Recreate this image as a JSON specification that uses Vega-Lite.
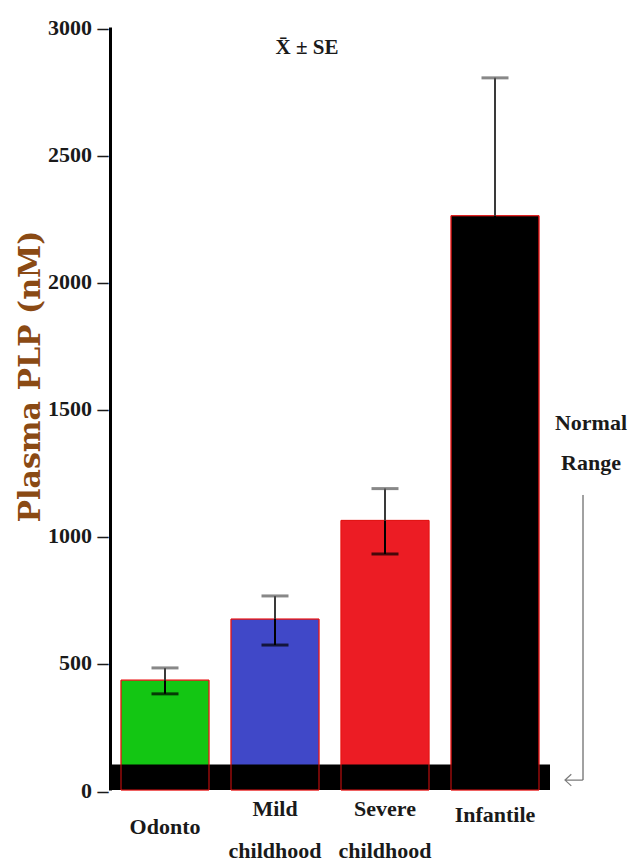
{
  "$schema": "https://vega.github.io/schema/vega-lite/v6.json",
  "width": 440,
  "height": 763,
  "autosize": {"type": "none"},
  "padding": {"left": 110, "top": 27, "right": 84, "bottom": 75},
  "background": "white",
  "config": {
    "view": {"stroke": null},
    "axisY": {"domainColor": "#000000", "domainWidth": 3, "grid": false}
  },
  "data": {
    "values": [
      {"group": "Odonto", "mean": 432, "lo": 378, "hi": 480},
      {"group": "Mild childhood", "mean": 672, "lo": 570, "hi": 763},
      {"group": "Severe childhood", "mean": 1060, "lo": 928, "hi": 1185},
      {"group": "Infantile", "mean": 2258, "lo": 1716, "hi": 2800}
    ]
  },
  "layer": [
    {
      "mark": {"type": "bar", "stroke": "#ff2a2a", "strokeWidth": 1, "strokeOpacity": 0.7},
      "encoding": {
        "x": {
          "field": "group",
          "type": "nominal",
          "sort": null,
          "scale": {"paddingInner": 0.2, "paddingOuter": 0.1},
          "axis": {
            "title": null,
            "domain": false,
            "tickOpacity": 0,
            "tickSize": 0,
            "labelAngle": 0,
            "labelExpr": "split(datum.label, ' ')",
            "labelFont": "Liberation Serif",
            "labelFontWeight": "bold",
            "labelFontSize": 22,
            "labelColor": "#1a1a1a",
            "labelLineHeight": 42,
            "labelPadding": {"condition": [{"test": "datum.value === 'Odonto'", "value": 26}, {"test": "datum.value === 'Infantile'", "value": 14}], "value": 8}
          }
        },
        "y": {
          "field": "mean",
          "type": "quantitative",
          "scale": {"domain": [0, 3000], "nice": false},
          "axis": {
            "values": [0, 500, 1000, 1500, 2000, 2500, 3000],
            "format": "d",
            "labelExpr": "datum.label + ' –'",
            "labelOverlap": false,
            "tickSize": 0,
            "labelFont": "Liberation Serif",
            "labelFontWeight": "bold",
            "labelFontSize": 22,
            "labelColor": "#1a1a1a",
            "labelPadding": 2,
            "title": "Plasma PLP (nM)",
            "titleFont": "DejaVu Serif",
            "titleFontWeight": "bold",
            "titleFontSize": 30,
            "titleColor": "#8a4a14",
            "titleX": -80,
            "titleY": 349,
            "titleAngle": -90,
            "titleAlign": "center",
            "titleBaseline": "middle"
          }
        },
        "color": {
          "field": "group",
          "type": "nominal",
          "sort": null,
          "scale": {"domain": ["Odonto", "Mild childhood", "Severe childhood", "Infantile"], "range": ["#13c613", "#4048c8", "#ec1c24", "#000000"]},
          "legend": null
        }
      }
    },
    {
      "data": {"values": [{"lo": 0, "hi": 100}]},
      "mark": {"type": "rect", "color": "#000000"},
      "encoding": {
        "y": {"field": "lo", "type": "quantitative"},
        "y2": {"field": "hi"}
      }
    },
    {
      "mark": {"type": "bar", "fillOpacity": 0, "stroke": "#e01010", "strokeWidth": 1},
      "encoding": {
        "x": {"field": "group", "type": "nominal", "sort": null},
        "y": {"field": "mean", "type": "quantitative"}
      }
    },
    {
      "mark": {"type": "rule", "color": "#000000", "strokeWidth": 2},
      "encoding": {
        "x": {"field": "group", "type": "nominal", "sort": null},
        "y": {"field": "lo", "type": "quantitative"},
        "y2": {"field": "mean"}
      }
    },
    {
      "mark": {"type": "rule", "color": "#3a3a3a", "strokeWidth": 2},
      "encoding": {
        "x": {"field": "group", "type": "nominal", "sort": null},
        "y": {"field": "mean", "type": "quantitative"},
        "y2": {"field": "hi"}
      }
    },
    {
      "mark": {"type": "tick", "color": "#000000", "size": 27, "thickness": 3},
      "encoding": {
        "x": {"field": "group", "type": "nominal", "sort": null},
        "y": {"field": "lo", "type": "quantitative"}
      }
    },
    {
      "mark": {"type": "tick", "color": "#555555", "size": 27, "thickness": 3},
      "encoding": {
        "x": {"field": "group", "type": "nominal", "sort": null},
        "y": {"field": "hi", "type": "quantitative"}
      }
    },
    {
      "data": {"values": [{"t": "X̄ ± SE"}]},
      "mark": {"type": "text", "font": "Liberation Serif", "fontWeight": "bold", "fontSize": 21, "color": "#1a1a1a", "dx": 32, "baseline": "middle", "align": "center"},
      "encoding": {
        "x": {"datum": "Mild childhood"},
        "y": {"datum": 2918},
        "text": {"field": "t"}
      }
    },
    {
      "data": {"values": [{"t": ["Normal", "Range"]}]},
      "mark": {"type": "text", "font": "Liberation Serif", "fontWeight": "bold", "fontSize": 22, "color": "#1a1a1a", "dx": 96, "baseline": "middle", "align": "center", "lineHeight": 40},
      "encoding": {
        "x": {"datum": "Infantile"},
        "y": {"datum": 1443},
        "text": {"field": "t"}
      }
    },
    {
      "data": {"values": [{"a": 1160, "b": 39}]},
      "mark": {"type": "rule", "color": "#444444", "strokeWidth": 1},
      "encoding": {
        "x": {"datum": "Infantile"},
        "xOffset": {"value": 132},
        "y": {"field": "a", "type": "quantitative"},
        "y2": {"field": "b"}
      }
    },
    {
      "data": {"values": [{"b": 39}]},
      "mark": {"type": "point", "shape": "M1.2,-1.1L0,0L1.2,1.1M0,0L3.4,0", "filled": false, "stroke": "#444444", "strokeWidth": 1.2, "size": 110},
      "encoding": {
        "x": {"datum": "Infantile"},
        "xOffset": {"value": 114},
        "y": {"field": "b", "type": "quantitative"}
      }
    }
  ]
}
